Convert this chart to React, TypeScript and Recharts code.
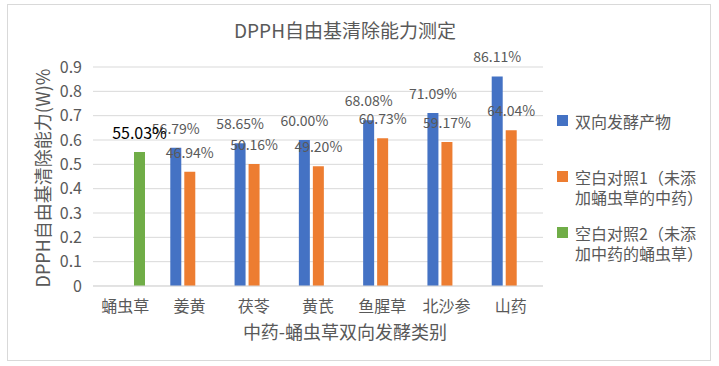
import React from "react";
import { BarChart, Bar, XAxis, YAxis, CartesianGrid, Legend, LabelList } from "recharts";

const categories = ["蛹虫草", "姜黄", "茯苓", "黄芪", "鱼腥草", "北沙参", "山药"];
const fermented = [null, 0.5679, 0.5865, 0.6, 0.6808, 0.7109, 0.8611];
const blank1 = [null, 0.4694, 0.5016, 0.492, 0.6073, 0.5917, 0.6404];
const blank2 = [0.5503, null, null, null, null, null, null];
const yTicks = [0, 0.1, 0.2, 0.3, 0.4, 0.5, 0.6, 0.7, 0.8, 0.9];

const seriesNames = ["双向发酵产物", "空白对照1（未添加蛹虫草的中药）", "空白对照2（未添加中药的蛹虫草）"];
const seriesColors = ["#4472C4", "#ED7D31", "#70AD47"];

const data = categories.map((name, i) => ({
  name,
  a: fermented[i],
  b: blank1[i],
  c: blank2[i],
}));

const FONT = '"Noto Sans CJK SC", "Noto Sans", sans-serif';
const GREY = "#595959";

function makeLabel(color: string, size: number) {
  return (props: any) => {
    const { x, y, width, value } = props;
    if (value == null) return null;
    return (
      <text
        x={x + width / 2}
        y={y - 20}
        textAnchor="middle"
        dominantBaseline="central"
        fill={color}
        fontSize={size}
        fontFamily={FONT}
      >
        {(value * 100).toFixed(2) + "%"}
      </text>
    );
  };
}

// zero-size box so the legend doesn't shrink the plot area
function LegendBox() {
  return (
    <div style={{ position: "relative", width: 0, height: 0, overflow: "visible", fontFamily: FONT, fontSize: 16, color: GREY }}>
      {seriesNames.map((n, i) => {
        const lines = n.length > 8 ? [n.slice(0, 8), n.slice(8)] : [n];
        return (
          <div key={n} style={{ position: "absolute", left: 0, top: i * 56, lineHeight: "20px" }}>
            <div
              style={{
                position: "absolute",
                left: 0,
                top: 4,
                width: 11,
                height: 11,
                background: seriesColors[i],
              }}
            />
            <div style={{ marginLeft: 18, whiteSpace: "nowrap" }}>
              {lines.map((l) => (
                <div key={l}>{l}</div>
              ))}
            </div>
          </div>
        );
      })}
    </div>
  );
}

export default function App() {
  return (
    <div style={{ position: "absolute", left: 0, top: 0, width: 719, height: 366, background: "#fff" }}>
      <div
        style={{
          position: "absolute",
          left: 7,
          top: 4,
          width: 702,
          height: 355,
          border: "1px solid #d9d9d9",
        }}
      />
      <div
        style={{
          position: "absolute",
          left: 0,
          top: 19,
          width: 690,
          textAlign: "center",
          fontFamily: FONT,
          fontSize: 19,
          color: GREY,
          lineHeight: "22px",
        }}
      >
        DPPH自由基清除能力测定
      </div>
      <div
        style={{
          position: "absolute",
          left: 0,
          top: 320,
          width: 690,
          textAlign: "center",
          fontFamily: FONT,
          fontSize: 18,
          color: GREY,
          lineHeight: "22px",
        }}
      >
        中药-蛹虫草双向发酵类别
      </div>
      <div
        style={{
          position: "absolute",
          left: 42,
          top: 178,
          transform: "translate(-50%, -50%) rotate(-90deg)",
          fontFamily: FONT,
          fontSize: 18,
          color: GREY,
          whiteSpace: "nowrap",
          lineHeight: "22px",
        }}
      >
        DPPH自由基清除能力(W)%
      </div>
      <BarChart
        width={719}
        height={366}
        data={data}
        margin={{ top: 67, right: 176, bottom: 30, left: 0 }}
        barSize={11}
        barGap={3}
        style={{ position: "absolute", left: 0, top: 0 }}
      >
        <CartesianGrid vertical={false} stroke="#d9d9d9" />
        <XAxis
          dataKey="name"
          height={50}
          axisLine={{ stroke: "#d9d9d9" }}
          tickLine={false}
          tickMargin={9}
          interval={0}
          tick={{ fill: GREY, fontSize: 16, fontFamily: FONT }}
        />
        <YAxis
          width={93}
          domain={[0, 0.9]}
          ticks={yTicks}
          axisLine={false}
          tickLine={false}
          tickMargin={5}
          tick={{ fill: GREY, fontSize: 16, fontFamily: FONT }}
        />
        <Legend
          layout="vertical"
          align="right"
          verticalAlign="top"
          wrapperStyle={{ left: 557, top: 111, width: 0, height: 0 }}
          content={() => <LegendBox />}
        />
        <Bar dataKey="a" name={seriesNames[0]} fill={seriesColors[0]} isAnimationActive={false}>
          <LabelList dataKey="a" content={makeLabel(GREY, 14)} />
        </Bar>
        <Bar dataKey="b" name={seriesNames[1]} fill={seriesColors[1]} isAnimationActive={false}>
          <LabelList dataKey="b" content={makeLabel(GREY, 14)} />
        </Bar>
        <Bar dataKey="c" name={seriesNames[2]} fill={seriesColors[2]} isAnimationActive={false}>
          <LabelList dataKey="c" content={makeLabel("#000", 16)} />
        </Bar>
      </BarChart>
    </div>
  );
}
